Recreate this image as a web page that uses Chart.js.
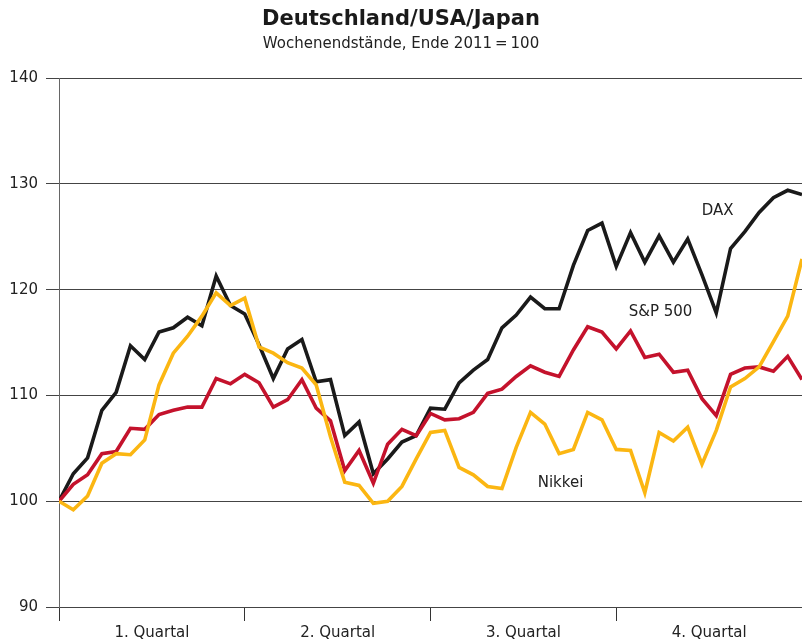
<!DOCTYPE html>
<html>
<head>
<meta charset="utf-8">
<script src="https://cdn.jsdelivr.net/npm/chart.js@4"></script>
<style>
  html, body { margin: 0; padding: 0; background: #fff; }
  #wrap { width: 802px; height: 644px; }
</style>
</head>
<body>
<div id="wrap"><canvas id="myChart"></canvas></div>
<script>
// Wochenendstände 2012, Ende 2011 = 100 (53 Wochen)
const dax = [100, 102.6, 104.1, 108.6, 110.3, 114.7, 113.4, 116.0, 116.4, 117.4,
  116.6, 121.3, 118.5, 117.7, 114.8, 111.6, 114.4, 115.3, 111.3, 111.5,
  106.2, 107.5, 102.6, 104.0, 105.6, 106.2, 108.8, 108.7, 111.2, 112.4,
  113.4, 116.4, 117.6, 119.3, 118.2, 118.2, 122.3, 125.6, 126.3, 122.2,
  125.4, 122.6, 125.1, 122.6, 124.8, 121.4, 117.8, 123.9, 125.5, 127.3,
  128.7, 129.4, 129.0]
const sp500 = [100, 101.6, 102.5, 104.5, 104.7, 106.9, 106.8, 108.2, 108.6, 108.9,
  108.9, 111.6, 111.1, 112.0, 111.2, 108.9, 109.6, 111.5, 108.8, 107.6,
  102.9, 104.8, 101.7, 105.4, 106.8, 106.2, 108.3, 107.7, 107.8, 108.4,
  110.2, 110.6, 111.8, 112.8, 112.2, 111.8, 114.3, 116.5, 116.0, 114.4,
  116.1, 113.6, 113.9, 112.2, 112.4, 109.7, 108.1, 112.0, 112.6, 112.7,
  112.3, 113.7, 111.5]
const nikkei = [100, 99.2, 100.5, 103.6, 104.5, 104.4, 105.8, 111.0, 114.0, 115.6,
  117.5, 119.7, 118.5, 119.2, 114.6, 114.0, 113.1, 112.6, 111.0, 106.1,
  101.8, 101.5, 99.8, 100.0, 101.4, 104.0, 106.5, 106.7, 103.2, 102.5,
  101.4, 101.2, 105.1, 108.4, 107.3, 104.5, 104.9, 108.4, 107.7, 104.9,
  104.8, 100.8, 106.5, 105.7, 107.0, 103.5, 106.7, 110.8, 111.6, 112.7,
  115.1, 117.5, 122.9]

const quarters = ['1. Quartal', '2. Quartal', '3. Quartal', '4. Quartal']
const yTicks = [90, 100, 110, 120, 130, 140]

// Beschriftung direkt an den Linien: [Text, Woche, Wert]
const lineLabels = [
  ['DAX', 46.1, 127.4],
  ['S&P 500', 42.1, 117.9],
  ['Nikkei', 35.1, 101.75]
]

const weeks = dax.length - 1
const fontFam = '"DejaVu Sans", Verdana, sans-serif'

function toPoints(arr) {
  return arr.map(function(v, i) { return { x: i, y: v } })
}

// Quartalsgrenzen und Quartalsmitten als Ticks
const qLen = weeks / 4
const xTickValues = []
for (let q = 0; q <= 4; q++) {
  xTickValues.push(q * qLen)
  if (q < 4) xTickValues.push(q * qLen + qLen / 2)
}

const labelPlugin = {
  id: 'lineLabels',
  afterDatasetsDraw(chart) {
    const ctx = chart.ctx
    const xs = chart.scales.x
    const ys = chart.scales.y
    ctx.save()
    ctx.font = '15px ' + fontFam
    ctx.fillStyle = '#222'
    ctx.textAlign = 'center'
    ctx.textBaseline = 'middle'
    lineLabels.forEach(function(l) {
      ctx.fillText(l[0], xs.getPixelForValue(l[1]), ys.getPixelForValue(l[2]))
    })
    ctx.restore()
  }
}

const data = {
  datasets: [
    { label: 'Nikkei', data: toPoints(nikkei), borderColor: '#fbb612' },
    { label: 'S&P 500', data: toPoints(sp500), borderColor: '#c4122c' },
    { label: 'DAX', data: toPoints(dax), borderColor: '#1a1a1a' }
  ].map(function(d) {
    return Object.assign(d, { borderWidth: 3.6, pointRadius: 0, tension: 0, fill: false })
  })
}

const config = {
  type: 'line',
  data,
  plugins: [labelPlugin],
  options: {
    responsive: true,
    maintainAspectRatio: false,
    animation: false,
    layout: { padding: { top: 0, left: 0, right: 0, bottom: -1 } },
    plugins: {
      legend: { display: false },
      tooltip: { enabled: false },
      title: {
        display: true,
        text: 'Deutschland/USA/Japan',
        color: '#1a1a1a',
        font: { family: fontFam, size: 21, weight: 'bold', lineHeight: 1.2 },
        padding: { top: 7, bottom: 0 }
      },
      subtitle: {
        display: true,
        text: 'Wochenendstände, Ende 2011\u2009=\u2009100',
        color: '#222',
        font: { family: fontFam, size: 15, lineHeight: 1.2 },
        padding: { top: 3, bottom: 25 }
      }
    },
    scales: {
      x: {
        type: 'linear',
        min: 0,
        max: weeks,
        afterBuildTicks(scale) {
          scale.ticks = xTickValues.map(function(v) { return { value: v } })
        },
        afterFit(scale) { scale.paddingRight = 0 },
        ticks: {
          autoSkip: false,
          maxRotation: 0,
          color: '#222',
          padding: 3,
          font: { family: fontFam, size: 15 },
          callback(value) {
            if (value % qLen === 0) return ''
            return quarters[Math.floor(value / qLen)]
          }
        },
        grid: {
          drawOnChartArea: false,
          tickLength: 14,
          color(ctx) {
            return ctx.tick && ctx.tick.value % qLen === 0 ? '#333' : 'rgba(0,0,0,0)'
          }
        },
        border: { display: false }
      },
      y: {
        min: 90,
        max: 140,
        afterBuildTicks(scale) {
          scale.ticks = yTicks.map(function(v) { return { value: v } })
        },
        afterFit(scale) { scale.width = 59 },
        ticks: {
          color: '#222',
          padding: 8,
          font: { family: fontFam, size: 15 }
        },
        grid: { color: '#444', tickLength: 13, lineWidth: 1 },
        border: { display: true, color: '#666' }
      }
    }
  }
}

const myChart = new Chart(document.getElementById('myChart'), config)
</script>
</body>
</html>
